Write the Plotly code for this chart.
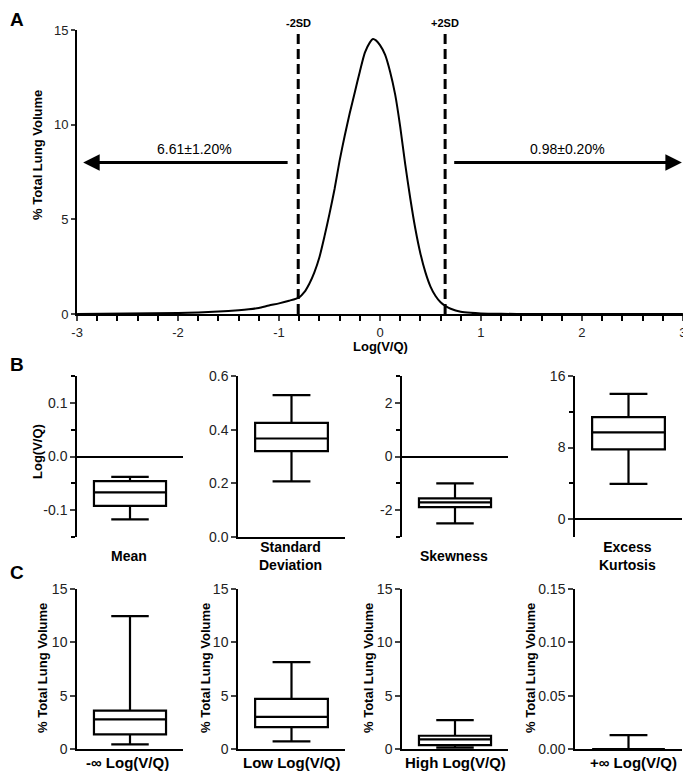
import plotly.graph_objs as go

# ---- panel A: distribution curve ----
logvq = [-3.0, -2.5, -2.0, -1.8, -1.6, -1.4, -1.3, -1.2, -1.1, -1.0, -0.9, -0.8, -0.75, -0.7,
         -0.65, -0.6, -0.55, -0.5, -0.45, -0.4, -0.35, -0.3, -0.25, -0.2, -0.15, -0.1, -0.07,
         -0.04, 0.0, 0.05, 0.1, 0.15, 0.2, 0.25, 0.3, 0.35, 0.4, 0.45, 0.5, 0.55, 0.6, 0.65,
         0.7, 0.8, 0.9, 1.0, 1.2, 1.5, 2.0, 3.0]
volume = [0.0, 0.02, 0.05, 0.08, 0.13, 0.2, 0.25, 0.32, 0.45, 0.56, 0.7, 0.88, 1.15, 1.6,
          2.2, 3.0, 4.1, 5.3, 6.6, 8.1, 9.4, 10.6, 11.7, 12.8, 13.8, 14.35, 14.52,
          14.45, 14.2, 13.7, 12.8, 11.6, 9.9, 7.9, 6.1, 4.5, 3.2, 2.2, 1.45, 0.95, 0.62, 0.42,
          0.28, 0.12, 0.06, 0.03, 0.01, 0.0, 0.0, 0.0]
sd_lines = [-0.81, 0.645]
sd_labels = ['-2SD', '+2SD']
tail_pct = ['6.61±1.20%', '0.98±0.20%']

# ---- panels B and C: box plots (q1, median, q3, min, max) ----
b_names = ['Mean', 'Standard<br>Deviation', 'Skewness', 'Excess<br>Kurtosis']
b_q1 = [-0.092, 0.32, -1.89, 7.8]
b_med = [-0.067, 0.367, -1.71, 9.7]
b_q3 = [-0.046, 0.425, -1.56, 11.4]
b_min = [-0.117, 0.207, -2.49, 3.95]
b_max = [-0.038, 0.529, -1.0, 14.0]

c_names = ['-∞ Log(V/Q)', 'Low Log(V/Q)', 'High Log(V/Q)', '+∞ Log(V/Q)']
c_q1 = [1.37, 2.05, 0.37, 0.0]
c_med = [2.77, 3.02, 0.9, 0.0]
c_q3 = [3.6, 4.7, 1.24, 0.0]
c_min = [0.44, 0.72, 0.12, 0.0]
c_max = [12.45, 8.15, 2.7, 0.013]

# the page body has an 8px margin: the figure starts at (8, 8) of the window
OFF = 8
W, H = 691 - OFF, 774 - OFF
FONT = 'Arial, Liberation Sans, sans-serif'
NARROW = 'Liberation Sans Narrow, Arial Narrow, Liberation Sans, Arial, sans-serif'


def px_x(v):
    # window pixel -> paper fraction
    return (v - OFF) / W


def px_y(v):
    return 1 - (v - OFF) / H


fig = go.Figure()

# panel A
fig.add_trace(go.Scatter(x=logvq, y=volume, mode='lines',
                         line=dict(color='black', width=2, shape='spline', smoothing=0.6),
                         xaxis='x', yaxis='y', hoverinfo='skip'))
for xv in sd_lines:
    fig.add_trace(go.Scatter(x=[xv, xv], y=[0, 15], mode='lines',
                             line=dict(color='black', width=3, dash='10px,5px'),
                             xaxis='x', yaxis='y', hoverinfo='skip'))

minor_x = [round(-3 + 0.2 * k, 1) for k in range(31) if k % 5 != 0]

layout = dict(
    template='none',
    width=W, height=H, margin=dict(l=0, r=0, t=0, b=0, pad=0), showlegend=False,
    paper_bgcolor='white', plot_bgcolor='white',
    font=dict(family=FONT, color='black'),
    xaxis=dict(domain=[px_x(77), px_x(683)], range=[-3.001, 3.001], anchor='y', automargin=False,
               tickmode='array',
               tickvals=[-3, -2, -1, 0, 1, 2, 3], ticktext=['-3', '-2', '-1', '0', '1', '2', '3'],
               ticks='outside', ticklen=5, tickwidth=1.5, showline=True, linecolor='black',
               linewidth=2, showgrid=False, zeroline=False,
               minor=dict(tickmode='array', tickvals=minor_x, ticks='outside', ticklen=5,
                          tickwidth=1.5, tickcolor='black', showgrid=False),
               tickfont=dict(family=NARROW, size=13, color='#222')),
    yaxis=dict(domain=[px_y(314), px_y(30)], range=[0, 15], anchor='x', automargin=False,
               tickvals=[0, 5, 10, 15], ticks='outside', ticklen=4, tickwidth=1.5,
               showline=True, linecolor='black', linewidth=2, showgrid=False, zeroline=False,
               tickfont=dict(family=NARROW, size=13, color='#222')),
)

annotations = [
    dict(text='A', x=0, xanchor='left', y=px_y(20), font=dict(size=19, family=FONT), ),
    dict(text='B', x=0, xanchor='left', y=px_y(365), font=dict(size=19, family=FONT)),
    dict(text='C', x=0, xanchor='left', y=px_y(572), font=dict(size=19, family=FONT)),
    dict(text='Log(V/Q)', x=px_x(380), y=px_y(347), font=dict(size=13)),
    dict(text='% Total Lung Volume', x=px_x(37), y=px_y(155), textangle=-90, font=dict(size=13)),
]
for xv, lab in zip(sd_lines, sd_labels):
    annotations.append(dict(text=lab, x=xv, xref='x', y=px_y(23), font=dict(size=11,
                                                                             family=NARROW)))

# tail arrows
annotations.append(dict(x=-2.94, y=8.0, ax=-0.9, ay=8.0, xref='x', yref='y', axref='x', ayref='y',
                        text='', showarrow=True, arrowhead=2, arrowsize=1.1, arrowwidth=3,
                        arrowcolor='black'))
annotations.append(dict(x=2.99, y=8.0, ax=0.72, ay=8.0, xref='x', yref='y', axref='x', ayref='y',
                        text='', showarrow=True, arrowhead=2, arrowsize=1.1, arrowwidth=3,
                        arrowcolor='black'))
for xv, t in zip([-1.84, 1.86], tail_pct):
    annotations.append(dict(text=t, x=xv, y=8.7, xref='x', yref='y', bold=False,
                            font=dict(size=14, family=NARROW)))

col_px = [(77, 183), (238, 345), (402, 508), (575, 682)]
b_cfg = [
    dict(range=[-0.15, 0.15], tickvals=[-0.1, 0, 0.1], ticktext=['-0.1', '0.0', '0.1'], minor=0.05, zero=True),
    dict(range=[0, 0.6], tickvals=[0, 0.2, 0.4, 0.6], ticktext=['0.0', '0.2', '0.4', '0.6'], minor=None, zero=False),
    dict(range=[-3, 3], tickvals=[-2, 0, 2], ticktext=['-2', '0', '2'], minor=1, zero=True),
    dict(range=[-2, 16], tickvals=[0, 8, 16], ticktext=['0', '8', '16'], minor=4, zero=True),
]
c_cfg = [dict(range=[0, 15], tickvals=[0, 5, 10, 15], ticktext=['0', '5', '10', '15'])] * 3 + [
    dict(range=[0, 0.15], tickvals=[0, 0.05, 0.1, 0.15], ticktext=['0.00', '0.05', '0.10', '0.15'])]

box_style = dict(width=0.68, whiskerwidth=0.52, line=dict(color='black', width=2.2),
                 fillcolor='white', boxpoints=False, hoverinfo='skip')

idx = 2
# panel B
for i in range(4):
    xa, ya = 'x%d' % idx, 'y%d' % idx
    fig.add_trace(go.Box(x=[0.5], q1=[b_q1[i]], median=[b_med[i]], q3=[b_q3[i]],
                         lowerfence=[b_min[i]], upperfence=[b_max[i]], xaxis=xa, yaxis=ya,
                         **box_style))
    cfg = b_cfg[i]
    layout['xaxis%d' % idx] = dict(domain=[px_x(col_px[i][0]), px_x(col_px[i][1])], range=[0, 1],
                                   anchor=ya, showticklabels=False, ticks='', showgrid=False,
                                   zeroline=False, showline=not cfg['zero'], linecolor='black',
                                   linewidth=1.5, automargin=False)
    yd = dict(domain=[px_y(537), px_y(376)], range=cfg['range'], anchor=xa, automargin=False,
              tickvals=cfg['tickvals'], ticktext=cfg['ticktext'], ticks='outside', ticklen=5,
              tickwidth=1.5, showline=True, linecolor='black', linewidth=1.5, showgrid=False,
              zeroline=cfg['zero'], zerolinecolor='black', zerolinewidth=1.5,
              tickfont=dict(size=14, color='#222'))
    if cfg['minor']:
        yd['minor'] = dict(dtick=cfg['minor'], ticks='outside', ticklen=4, tickwidth=1.5,
                           tickcolor='black', showgrid=False)
    layout['yaxis%d' % idx] = yd
    annotations.append(dict(text=b_names[i], x=px_x(sum(col_px[i]) / 2 - 1), y=px_y(556),
                            font=dict(size=14)))
    idx += 1

annotations.append(dict(text='Log(V/Q)', x=px_x(37), y=px_y(452), textangle=-90,
                        font=dict(size=13)))

# panel C
c_label_x = [127, 291, 455, 633]
c_title_x = [42, 205, 368, 530]
for i in range(4):
    xa, ya = 'x%d' % idx, 'y%d' % idx
    fig.add_trace(go.Box(x=[0.5], q1=[c_q1[i]], median=[c_med[i]], q3=[c_q3[i]],
                         lowerfence=[c_min[i]], upperfence=[c_max[i]], xaxis=xa, yaxis=ya,
                         **box_style))
    cfg = c_cfg[i]
    layout['xaxis%d' % idx] = dict(domain=[px_x(col_px[i][0]), px_x(col_px[i][1])], range=[0, 1],
                                   anchor=ya, showticklabels=False, ticks='', showgrid=False,
                                   zeroline=False, showline=True, linecolor='black', linewidth=1.5,
                                   automargin=False)
    layout['yaxis%d' % idx] = dict(domain=[px_y(749), px_y(589)], range=cfg['range'], anchor=xa,
                                   tickvals=cfg['tickvals'], ticktext=cfg['ticktext'],
                                   ticks='outside', ticklen=5, tickwidth=1.5, showline=True,
                                   linecolor='black', linewidth=1.5, showgrid=False, zeroline=False,
                                   automargin=False, tickfont=dict(size=14, color='#222'))
    annotations.append(dict(text=c_names[i], x=px_x(c_label_x[i]), y=px_y(762), font=dict(size=15)))
    annotations.append(dict(text='% Total Lung Volume', x=px_x(c_title_x[i]), y=px_y(668),
                            textangle=-90, font=dict(size=13)))
    idx += 1

for a in annotations:
    a.setdefault('xref', 'paper')
    a.setdefault('yref', 'paper')
    a.setdefault('showarrow', False)
    a.setdefault('xanchor', 'center')
    a.setdefault('yanchor', 'middle')
    if 'bold' in a:
        a.pop('bold')
    elif a['text']:
        a['text'] = '<b>%s</b>' % a['text']

layout['annotations'] = annotations
fig.update_layout(**layout)

fig.write_html('out.html')
